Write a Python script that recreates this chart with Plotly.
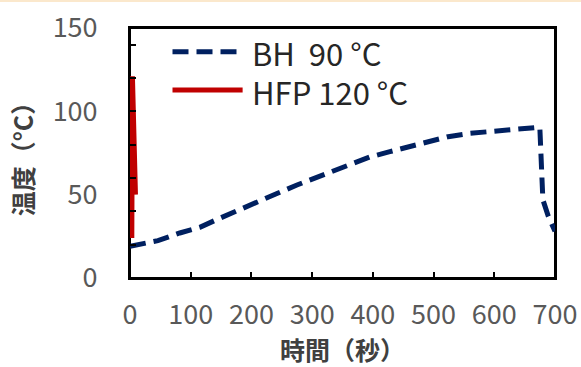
import plotly.graph_objects as go

bh_time = [0, 46, 82, 115, 145, 178, 211, 244, 275, 305, 338, 368, 395, 428, 458, 491, 524, 560, 593, 629, 664, 675, 680, 689, 700]
bh_temp = [19, 22.4, 27, 30.4, 35.4, 40.8, 45.8, 51, 55.8, 60, 64.4, 69, 72.6, 75.8, 78.8, 81.8, 84.8, 86.8, 87.8, 88.8, 89.8, 90.5, 47, 37, 28]
hfp_time = [3, 3, 4, 9]
hfp_temp = [24, 110, 121, 50]

bh_name = "BH\u00a0\u00a090\u00a0°C"
hfp_name = "HFP\u00a0120\u00a0°C"
x_ticks = [0, 100, 200, 300, 400, 500, 600, 700]
y_ticks = [0, 50, 100, 150]

FONT = "Noto Sans CJK JP"
BLUE = "#002060"
RED = "#C00000"

fig = go.Figure()
fig.add_trace(go.Scatter(x=bh_time, y=bh_temp, mode="lines", name=bh_name,
                         line=dict(color=BLUE, width=5, dash="16px,8px")))
fig.add_trace(go.Scatter(x=hfp_time, y=hfp_temp, mode="lines", name=hfp_name,
                         line=dict(color=RED, width=5)))

# plot frame
fig.add_shape(type="rect", xref="paper", yref="paper", x0=0, x1=1, y0=0, y1=1,
              line=dict(color="black", width=2), layer="below")

# custom legend
legend_items = [(bh_name, BLUE, "16px,8px", 0.905), (hfp_name, RED, "solid", 0.752)]
for name, col, dash, yy in legend_items:
    fig.add_shape(type="line", xref="paper", yref="paper", x0=0.10, x1=0.265, y0=yy, y1=yy,
                  line=dict(color=col, width=5, dash=dash))
    fig.add_annotation(xref="paper", yref="paper", x=0.282, y=yy - 0.005, text=name, showarrow=False,
                       xanchor="left", yanchor="middle", font=dict(family=FONT, size=31, color="#262626"))

# faint top border
fig.add_shape(type="line", xref="paper", yref="paper", x0=-0.4, x1=1.2, y0=1.108, y1=1.108,
              line=dict(color="#FBE8CC", width=2))

fig.update_layout(
    width=581, height=367,
    margin=dict(l=130, r=26, t=28, b=89, autoexpand=False),
    paper_bgcolor="white", plot_bgcolor="white",
    showlegend=False,
    font=dict(family=FONT, size=27, color="#595959"),
)
fig.update_xaxes(
    range=[0, 700], tickvals=x_ticks, ticks="inside", ticklen=6, tickwidth=1.5, tickcolor="black",
    showline=True, linecolor="black", linewidth=2, mirror=True, showgrid=False, zeroline=False,
    ticklabelstandoff=12, automargin=False,
    title=dict(text="<b>時間（秒）</b>", font=dict(family=FONT, size=25, color="#404040"), standoff=6),
)
fig.update_yaxes(
    range=[0, 150], tickvals=y_ticks, ticks="", showline=True, linecolor="black", linewidth=2,
    mirror=True, showgrid=False, zeroline=False, ticklabelstandoff=25, automargin=False,
    minor=dict(dtick=20, ticks="inside", ticklen=6, tickwidth=1.5, tickcolor="black", showgrid=False),
    title=dict(text="<b>温度（°C）</b>", font=dict(family=FONT, size=25, color="#404040"), standoff=12),
)

fig.write_html("out.html", config={"displayModeBar": False},
               post_script="document.body.style.margin='0';")
